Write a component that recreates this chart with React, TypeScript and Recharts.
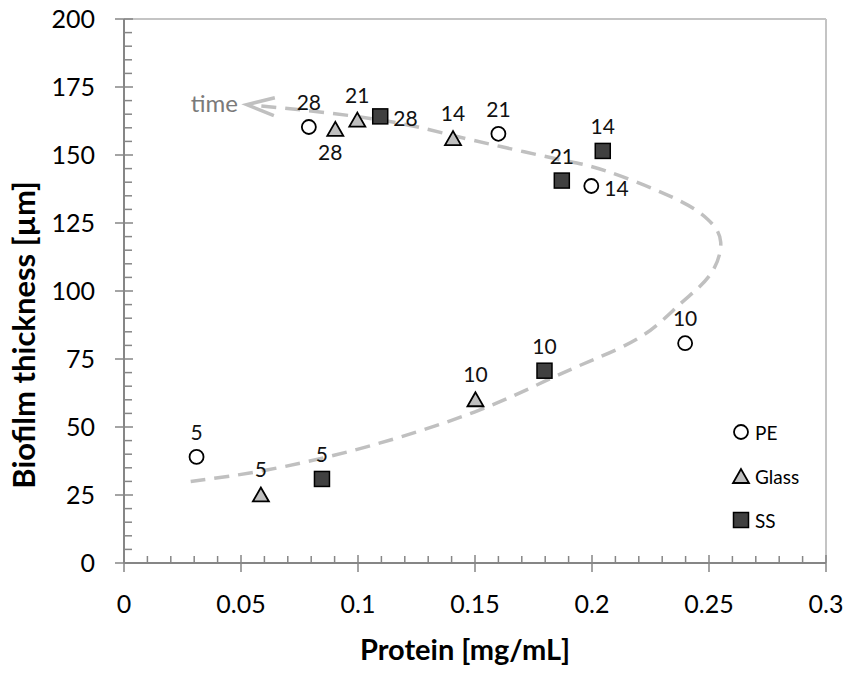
import { ScatterChart, Scatter, XAxis, YAxis, ReferenceLine, Legend } from 'recharts'

// day labels: 5, 10, 14, 21, 28
const peData = [
  { x: 0.031, y: 39, day: 5 },
  { x: 0.079, y: 160.3, day: 28 },
  { x: 0.16, y: 157.8, day: 21 },
  { x: 0.1997, y: 138.6, day: 14 },
  { x: 0.2398, y: 80.8, day: 10 },
]

const glassData = [
  { x: 0.0585, y: 25.2, day: 5 },
  { x: 0.0903, y: 159.6, day: 28 },
  { x: 0.0997, y: 163, day: 21 },
  { x: 0.1406, y: 156.2, day: 14 },
  { x: 0.1502, y: 60.2, day: 10 },
]

const ssData = [
  { x: 0.0846, y: 30.9, day: 5 },
  { x: 0.1095, y: 164.2, day: 28 },
  { x: 0.1871, y: 140.6, day: 21 },
  { x: 0.2046, y: 151.5, day: 14 },
  { x: 0.1797, y: 70.7, day: 10 },
]

// dashed "time" trend
const trendData = [
  { x: 0.0285, y: 30 },
  { x: 0.061, y: 34.2 },
  { x: 0.104, y: 42.8 },
  { x: 0.15, y: 55.6 },
  { x: 0.181, y: 67.3 },
  { x: 0.201, y: 74.9 },
  { x: 0.222, y: 83.8 },
  { x: 0.238, y: 95.5 },
  { x: 0.2505, y: 106 },
  { x: 0.255, y: 118 },
  { x: 0.2495, y: 126.3 },
  { x: 0.235, y: 134.2 },
  { x: 0.2065, y: 144 },
  { x: 0.187, y: 148.2 },
  { x: 0.161, y: 153.1 },
  { x: 0.1395, y: 157.4 },
  { x: 0.118, y: 161.6 },
  { x: 0.088, y: 165.4 },
  { x: 0.056, y: 168.2 },
]

const arrowData = [{ x: 0.0525, y: 168.5, text: 'time' }]

const legendOrder = ['PE', 'Glass', 'SS']
const xMajor = [0, 0.05, 0.1, 0.15, 0.2, 0.25, 0.3]
const yMajor = [0, 25, 50, 75, 100, 125, 150, 175, 200]
const xTicks = Array.from({ length: 31 }, (_, i) => i / 100)
const yTicks = Array.from({ length: 41 }, (_, i) => i * 5)

// which side the day label sits on (default: above)
const labelSide: Record<string, 'bottom' | 'right'> = {
  'Glass-28': 'bottom',
  'SS-28': 'right',
  'PE-14': 'right',
}

const FONT = 'Lato, "Open Sans", sans-serif'
const AXIS = '#868686'

function marker(kind: string, cx: number, cy: number) {
  if (kind === 'PE') return <circle cx={cx} cy={cy} r={7} fill="#fff" stroke="#000" strokeWidth={1.8} />
  if (kind === 'Glass')
    return (
      <polygon
        points={`${cx},${cy - 7} ${cx - 8},${cy + 7} ${cx + 8},${cy + 7}`}
        fill="#bfbfbf"
        stroke="#000"
        strokeWidth={1.8}
      />
    )
  return <rect x={cx - 7.5} y={cy - 7.5} width={15} height={15} fill="#404040" stroke="#000" strokeWidth={1.5} />
}

function pointShape(kind: string) {
  return (props: any) => {
    const { cx, cy, payload } = props
    const side = labelSide[`${kind}-${payload.day}`]
    let tx = cx
    let ty = cy - 17
    let anchor: 'middle' | 'start' = 'middle'
    if (side === 'bottom') {
      tx = cx - 5
      ty = cy + 31
    } else if (side === 'right') {
      tx = cx + 13
      ty = cy + 10
      anchor = 'start'
    }
    return (
      <g>
        {marker(kind, cx, cy)}
        <text x={tx} y={ty} textAnchor={anchor} fontSize={21} fontFamily={FONT} fill="#111">
          {payload.day}
        </text>
      </g>
    )
  }
}

const ArrowShape = (props: any) => {
  const { cx, cy, payload } = props
  return (
    <g>
      <polyline
        points={`${cx + 28},${cy - 7} ${cx},${cy} ${cx + 27},${cy + 11}`}
        fill="none"
        stroke="#c0c0c0"
        strokeWidth={3.5}
      />
      <text x={cx - 9} y={cy + 7} textAnchor="end" fontSize={24} fontFamily={FONT} fill="#7a7a7a">
        {payload.text}
      </text>
    </g>
  )
}

const XTick = (props: any) => {
  const { x, y, payload } = props
  const v = payload.value
  const major = xMajor.find((m) => Math.abs(m - v) < 1e-9)
  if (major === undefined) return <line x1={x} x2={x} y1={y - 7} y2={y} stroke={AXIS} strokeWidth={1.5} />
  return (
    <g>
      <line x1={x} x2={x} y1={y - 8} y2={y + 9} stroke={AXIS} strokeWidth={1.5} />
      <text x={x} y={y + 50} textAnchor="middle" fontSize={25} fontFamily={FONT} fill="#000">
        {String(major)}
      </text>
    </g>
  )
}

const YTick = (props: any) => {
  const { x, y, payload } = props
  const v = payload.value
  if (!yMajor.includes(v)) return <line x1={x} x2={x + 8} y1={y} y2={y} stroke={AXIS} strokeWidth={1.5} />
  return (
    <g>
      <line x1={x - 9} x2={x + 9} y1={y} y2={y} stroke={AXIS} strokeWidth={1.5} />
      <text x={x - 29} y={y + 9} textAnchor="end" fontSize={25} fontFamily={FONT} fill="#000">
        {String(v)}
      </text>
    </g>
  )
}

const XTitle = (props: any) => {
  const { x, y, width } = props.viewBox
  return (
    <text x={x + width / 2 - 10} y={y + 97} textAnchor="middle" fontSize={29} fontWeight="bold" fontFamily={FONT}>
      Protein [mg/mL]
    </text>
  )
}

const YTitle = () => (
  <text
    x={35}
    y={335}
    transform="rotate(-90 35 335)"
    textAnchor="middle"
    fontSize={31}
    fontWeight="bold"
    fontFamily={FONT}
  >
    Biofilm thickness [µm]
  </text>
)

const LegendBox = () => (
  <div style={{ fontFamily: FONT, fontSize: 19 }}>
    {legendOrder.map((name) => (
      <div key={name} style={{ display: 'flex', alignItems: 'center', height: 44 }}>
        <svg width={20} height={20} style={{ marginRight: 4 }}>
          {marker(name, 10, 10)}
        </svg>
        <span>{name}</span>
      </div>
    ))}
  </div>
)

export default function App() {
  return (
    <div style={{ position: 'absolute', left: 0, top: 0, width: 851, height: 673, background: '#fff' }}>
      <ScatterChart width={851} height={673} margin={{ top: 19, right: 25, bottom: 0, left: 0 }}>
        <XAxis
          type="number"
          dataKey="x"
          domain={[0, 0.3]}
          ticks={xTicks}
          interval={0}
          tick={<XTick />}
          tickLine={false}
          tickSize={0}
          tickMargin={0}
          height={110}
          axisLine={{ stroke: AXIS, strokeWidth: 2 }}
          label={<XTitle />}
        />
        <YAxis
          type="number"
          dataKey="y"
          domain={[0, 200]}
          ticks={yTicks}
          interval={0}
          tick={<YTick />}
          tickLine={false}
          tickSize={0}
          tickMargin={0}
          width={124}
          axisLine={{ stroke: AXIS, strokeWidth: 2 }}
          label={<YTitle />}
        />
        <ReferenceLine y={200} stroke="#c4c4c4" strokeWidth={2} />
        <ReferenceLine x={0.3} stroke="#c4c4c4" strokeWidth={2} />
        <Scatter
          name="trend"
          data={trendData}
          legendType="none"
          line={{ stroke: '#c0c0c0', strokeWidth: 3.5, strokeDasharray: '15 9' }}
          lineJointType="natural"
          shape={() => <g />}
          isAnimationActive={false}
        />
        <Scatter name="time" data={arrowData} legendType="none" shape={<ArrowShape />} isAnimationActive={false} />
        <Scatter name="PE" data={peData} shape={pointShape('PE')} isAnimationActive={false} />
        <Scatter name="Glass" data={glassData} shape={pointShape('Glass')} isAnimationActive={false} />
        <Scatter name="SS" data={ssData} shape={pointShape('SS')} isAnimationActive={false} />
        <Legend
          layout="vertical"
          align="center"
          verticalAlign="middle"
          content={<LegendBox />}
          wrapperStyle={{ left: 731, top: 410, width: 110 }}
        />
      </ScatterChart>
    </div>
  )
}
